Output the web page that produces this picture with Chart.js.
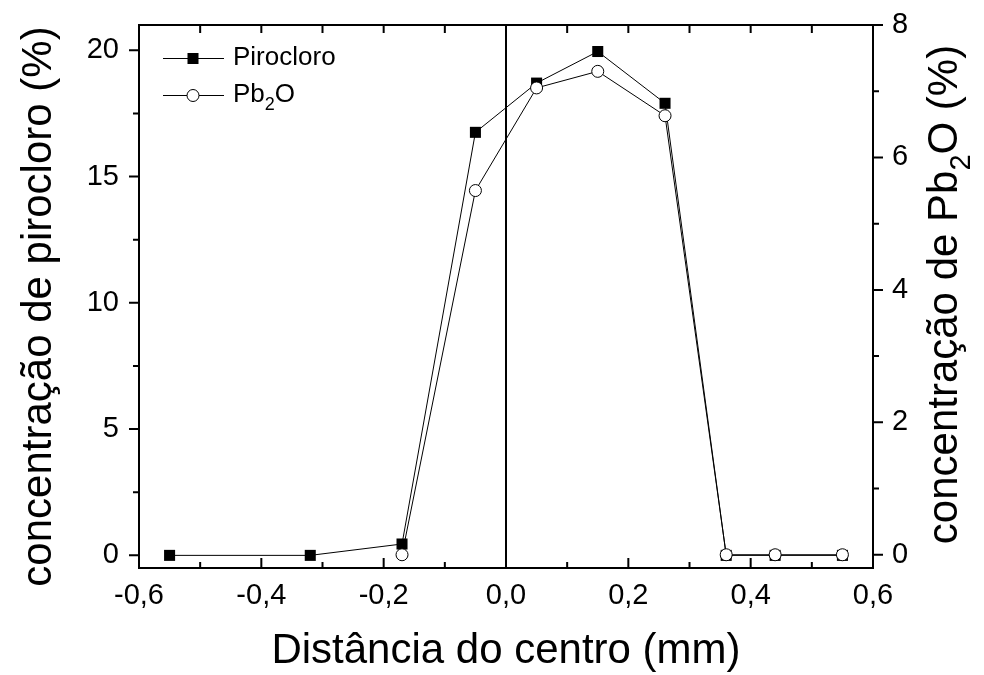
<!DOCTYPE html>
<html>
<head>
<meta charset="utf-8">
<script src="https://cdn.jsdelivr.net/npm/chart.js@4.4.1/dist/chart.umd.min.js"></script>
<style>
  html, body { margin: 0; padding: 0; background: #fff; }
</style>
</head>
<body>
<canvas id="perfil" width="984" height="675"></canvas>
<script>
// valores
const distancia = [-0.55, -0.32, -0.17, -0.05, 0.05, 0.15, 0.26, 0.36, 0.44, 0.55];
const pirocloro = [0, 0, 0.45, 16.75, 18.7, 19.95, 17.9, 0, 0, 0];
const distanciaPb2O = [-0.17, -0.05, 0.05, 0.15, 0.26, 0.36, 0.44, 0.55];
const pb2o = [0, 5.5, 7.05, 7.3, 6.63, 0, 0, 0];

// ticks
const xTicks = [-0.6, -0.4, -0.2, 0, 0.2, 0.4, 0.6];
const xMinor = [-0.5, -0.3, -0.1, 0.1, 0.3, 0.5];
const leftTicks = [0, 5, 10, 15, 20];
const leftMinor = [2.5, 7.5, 12.5, 17.5];
const rightTicks = [0, 2, 4, 6, 8];
const rightMinor = [1, 3, 5, 7];

const FONT = '"Liberation Sans", Arial, sans-serif';

const toPts = (xs, ys) => xs.map((x, i) => ({ x: x, y: ys[i] }));

// texto vertical (de baixo para cima) com partes de tamanhos diferentes
function drawVertical(ctx, parts, x, y) {
  ctx.save();
  ctx.textBaseline = 'middle';
  ctx.textAlign = 'left';
  let total = 0;
  parts.forEach(p => { ctx.font = p[1] + 'px ' + FONT; total += ctx.measureText(p[0]).width; });
  ctx.translate(x, y);
  ctx.rotate(-Math.PI / 2);
  let cx = -total / 2;
  parts.forEach(p => {
    ctx.font = p[1] + 'px ' + FONT;
    ctx.fillText(p[0], cx, p[2]);
    cx += ctx.measureText(p[0]).width;
  });
  ctx.restore();
}

// moldura, ticks menores e linha vertical em x = 0
const framePlugin = {
  id: 'frame',
  beforeDatasetsDraw(chart) {
    const ctx = chart.ctx, a = chart.chartArea;
    const x0 = Math.round(chart.scales.x.getPixelForValue(0));
    ctx.save();
    ctx.strokeStyle = '#000';
    ctx.lineWidth = 2;
    ctx.beginPath();
    ctx.moveTo(x0, a.top);
    ctx.lineTo(x0, a.bottom);
    ctx.stroke();
    ctx.restore();
  },
  afterDatasetsDraw(chart) {
    const ctx = chart.ctx, a = chart.chartArea;
    const sx = chart.scales.x, sy = chart.scales.y, sy2 = chart.scales.y2;
    ctx.save();
    ctx.strokeStyle = '#000';
    ctx.lineWidth = 2;
    ctx.strokeRect(a.left, a.top, a.right - a.left, a.bottom - a.top);
    ctx.beginPath();
    const line = (x1, y1, x2, y2) => { ctx.moveTo(x1, y1); ctx.lineTo(x2, y2); };
    xTicks.forEach(v => { const p = sx.getPixelForValue(v); line(p, a.bottom, p, a.bottom - 10); line(p, a.top, p, a.top + 8); });
    xMinor.forEach(v => { const p = sx.getPixelForValue(v); line(p, a.bottom, p, a.bottom - 6); line(p, a.top, p, a.top + 8); });
    leftTicks.forEach(v => { const p = sy.getPixelForValue(v); line(a.left, p, a.left - 10, p); });
    leftMinor.forEach(v => { const p = sy.getPixelForValue(v); line(a.left, p, a.left - 6, p); });
    rightTicks.forEach(v => { const p = sy2.getPixelForValue(v); line(a.right, p, a.right + 10, p); });
    rightMinor.forEach(v => { const p = sy2.getPixelForValue(v); line(a.right, p, a.right + 6, p); });
    ctx.stroke();
    ctx.restore();
  },
  afterDraw(chart) {
    const ctx = chart.ctx, a = chart.chartArea;
    ctx.save();
    ctx.fillStyle = '#000';
    ctx.strokeStyle = '#000';

    // legenda
    const lx = a.left + 24, rowY = [a.top + 33, a.top + 70];
    ctx.lineWidth = 1;
    rowY.forEach(y => {
      ctx.beginPath();
      ctx.moveTo(lx, y + 0.5);
      ctx.lineTo(lx + 61, y + 0.5);
      ctx.stroke();
    });
    ctx.fillRect(lx + 30 - 5.5, rowY[0] - 5, 11, 11);
    ctx.beginPath();
    ctx.arc(lx + 30, rowY[1] + 0.5, 6, 0, Math.PI * 2);
    ctx.fillStyle = '#fff';
    ctx.fill();
    ctx.stroke();
    ctx.fillStyle = '#000';
    ctx.textBaseline = 'middle';
    ctx.textAlign = 'left';
    ctx.font = '26px ' + FONT;
    ctx.fillText('Pirocloro', lx + 70, rowY[0]);
    ctx.fillText('Pb', lx + 70, rowY[1]);
    let w = ctx.measureText('Pb').width;
    ctx.font = '18px ' + FONT;
    ctx.fillText('2', lx + 70 + w, rowY[1] + 10);
    const w2 = ctx.measureText('2').width;
    ctx.font = '26px ' + FONT;
    ctx.fillText('O', lx + 70 + w + w2, rowY[1]);

    // titulos dos eixos y
    const mid = (a.top + a.bottom) / 2;
    drawVertical(ctx, [['concentração de pirocloro (%)', 42, 0]], 39, mid + 10);
    drawVertical(ctx, [['concentração de Pb', 42, 0], ['2', 29, 17], ['O (%)', 42, 0]], 945, mid - 2);
    ctx.restore();
  }
};

const ctx = document.getElementById('perfil').getContext('2d');
const chart = new Chart(ctx, {
  type: 'line',
  data: {
    datasets: [{
      label: 'Pirocloro',
      data: toPts(distancia, pirocloro),
      yAxisID: 'y',
      order: 2,
      borderColor: '#000',
      borderWidth: 1,
      pointStyle: 'rect',
      pointRadius: 7.8,
      pointBackgroundColor: '#000',
      pointBorderColor: '#000',
      pointBorderWidth: 0,
      tension: 0,
      fill: false
    }, {
      label: 'Pb2O',
      data: toPts(distanciaPb2O, pb2o),
      yAxisID: 'y2',
      order: 1,
      borderColor: '#000',
      borderWidth: 1,
      pointStyle: 'circle',
      pointRadius: 6,
      pointBackgroundColor: '#fff',
      pointBorderColor: '#000',
      pointBorderWidth: 1,
      tension: 0,
      fill: false
    }]
  },
  options: {
    responsive: false,
    animation: false,
    layout: { padding: { top: 25, left: 0, right: 0, bottom: 0 } },
    plugins: {
      legend: { display: false },
      tooltip: { enabled: false }
    },
    scales: {
      x: {
        type: 'linear',
        min: -0.6,
        max: 0.6,
        grid: { display: false, drawTicks: false },
        border: { display: false },
        afterBuildTicks: s => { s.ticks = xTicks.map(v => ({ value: v })); },
        afterFit: s => { s.height = 107; s.paddingLeft = 0; s.paddingRight = 0; },
        ticks: {
          color: '#000',
          padding: 11,
          maxRotation: 0,
          font: { family: FONT, size: 29 },
          callback: v => v.toFixed(1).replace('.', ',')
        },
        title: {
          display: true,
          text: 'Distância do centro (mm)',
          color: '#000',
          font: { family: FONT, size: 42, lineHeight: 1 },
          padding: { top: 0, bottom: 3 }
        }
      },
      y: {
        position: 'left',
        min: -0.5,
        max: 21,
        grid: { display: false, drawTicks: false },
        border: { display: false },
        afterBuildTicks: s => { s.ticks = leftTicks.map(v => ({ value: v })); },
        afterFit: s => { s.width = 139; s.paddingTop = 0; s.paddingBottom = 0; },
        ticks: {
          color: '#000',
          padding: 20,
          font: { family: FONT, size: 29 }
        }
      },
      y2: {
        position: 'right',
        min: -0.2,
        max: 8,
        grid: { display: false, drawTicks: false },
        border: { display: false },
        afterBuildTicks: s => { s.ticks = rightTicks.map(v => ({ value: v })); },
        afterFit: s => { s.width = 111; s.paddingTop = 0; s.paddingBottom = 0; },
        ticks: {
          color: '#000',
          padding: 19,
          font: { family: FONT, size: 29 }
        }
      }
    }
  },
  plugins: [framePlugin]
});
</script>
</body>
</html>
